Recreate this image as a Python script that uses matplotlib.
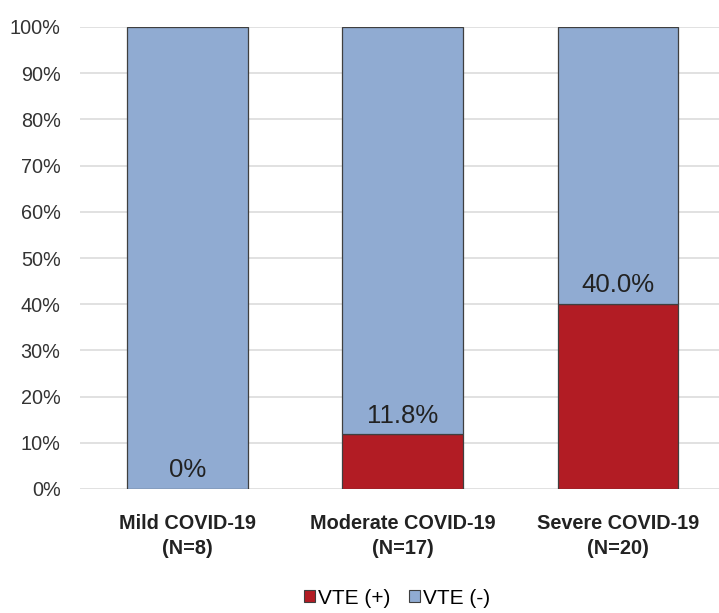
import numpy as np
import matplotlib
matplotlib.use("Agg")
import matplotlib.pyplot as plt
from matplotlib.patches import Patch

plt.rcParams["font.family"] = ["Liberation Sans", "DejaVu Sans"]

groups = ["Mild COVID-19\n(N=8)", "Moderate COVID-19\n(N=17)", "Severe COVID-19\n(N=20)"]
vte_pos = [0.0, 11.8, 40.0]
vte_neg = [100.0, 88.2, 60.0]
bar_labels = ["0%", "11.8%", "40.0%"]
yticks = list(range(0, 101, 10))

RED = "#b21c24"
BLUE = "#90abd2"
EDGE = "#3f3f3f"

fig = plt.figure(figsize=(7.19, 6.13), dpi=100)
ax = fig.add_axes([80 / 719, 1 - 489 / 613, 1 - 80 / 719, 462 / 613])

x = np.arange(len(groups))
w = 0.56
ax.bar(x, vte_pos, w, color=RED, edgecolor=EDGE, lw=0.9, zorder=3, label="VTE (+)")
ax.bar(x, vte_neg, w, bottom=vte_pos, color=BLUE, edgecolor=EDGE, lw=0.9, zorder=3, label="VTE (-)")

# percentage of VTE (+) written just above the red segment
for xi, v, s in zip(x, vte_pos, bar_labels):
    ax.annotate(s, (xi, v), textcoords="offset points", xytext=(0, 5),
                ha="center", va="bottom", fontsize=18.5, color="#222222", zorder=4)

ax.set_ylim(0, 100)
ax.set_xlim(-0.5, 2.47)
ax.set_yticks(yticks)
ax.set_yticklabels([f"{t}%" for t in yticks], fontsize=14.3, color="#333333")
ax.set_xticks(x)
ax.set_xticklabels(groups, fontsize=14.3, fontweight="bold", color="#222222", linespacing=1.4)
ax.tick_params(axis="both", length=0)
ax.tick_params(axis="y", pad=14)
ax.tick_params(axis="x", pad=18)
ax.yaxis.grid(True, color="#dedede", lw=1.3, zorder=0)
for sp in ax.spines.values():
    sp.set_visible(False)

handles = [Patch(facecolor=RED, edgecolor=EDGE, lw=0.8, label="VTE (+)"),
           Patch(facecolor=BLUE, edgecolor=EDGE, lw=0.8, label="VTE (-)")]
fig.legend(handles=handles, loc="center", bbox_to_anchor=(397 / 719, 1 - 598 / 613),
           ncol=2, frameon=False, fontsize=15, handlelength=0.55, handleheight=0.55,
           handletextpad=0.12, columnspacing=0.9)

fig.savefig("out.png", dpi=100)
